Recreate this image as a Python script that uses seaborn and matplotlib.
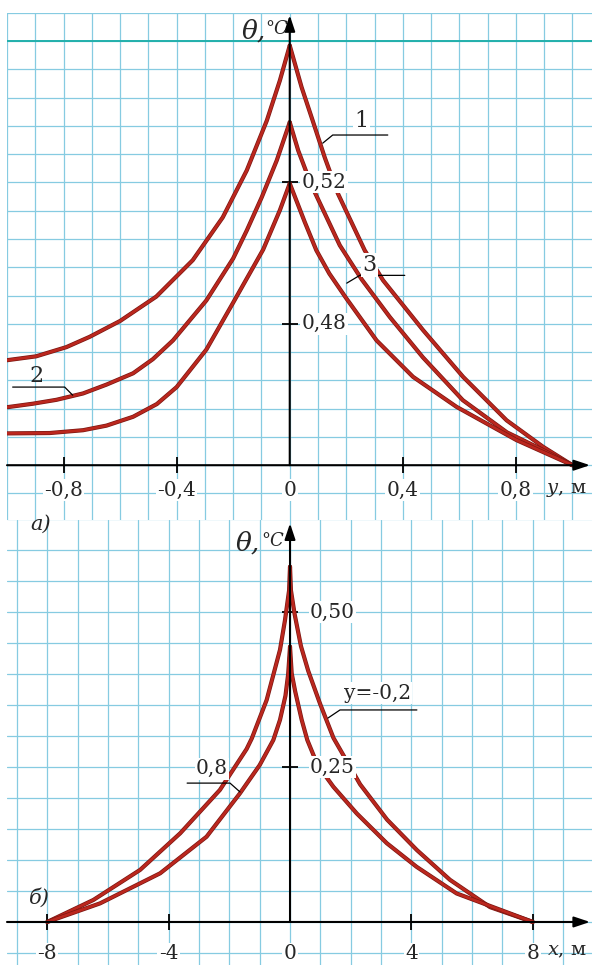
import numpy as np
import pandas as pd
import matplotlib
matplotlib.use("Agg")
import matplotlib.pyplot as plt
import matplotlib.patheffects as pe
import seaborn as sns

# ---------- panel а: θ along y, three cases ----------
a1_y_left = [-1.0, -0.897, -0.79, -0.708, -0.60, -0.472, -0.343, -0.237, -0.152, -0.081, -0.035, 0.0]
a1_t_left = [0.4697, 0.4708, 0.4734, 0.4763, 0.4808, 0.4877, 0.498, 0.5101, 0.5234, 0.5375, 0.5488, 0.5587]
a1_y_right = [0.0, 0.042, 0.081, 0.124, 0.170, 0.265, 0.33, 0.4716, 0.613, 0.767, 0.896, 1.0]
a1_t_right = [0.5587, 0.5469, 0.5375, 0.527, 0.5169, 0.5008, 0.4923, 0.4782, 0.465, 0.4527, 0.4452, 0.44]

a2_y_left = [-1.0, -0.908, -0.825, -0.731, -0.648, -0.554, -0.484, -0.413, -0.295, -0.2, -0.152, -0.099, -0.046, 0.0]
a2_t_left = [0.4564, 0.4574, 0.4585, 0.4603, 0.4628, 0.466, 0.47, 0.4753, 0.4866, 0.4985, 0.5064, 0.5158, 0.5262, 0.537]
a2_y_right = [0.0, 0.03, 0.075, 0.177, 0.255, 0.354, 0.471, 0.612, 0.768, 0.896, 1.0]
a2_t_right = [0.537, 0.529, 0.5195, 0.5022, 0.4925, 0.4819, 0.4705, 0.4584, 0.4493, 0.4443, 0.44]

a3_y_left = [-1.0, -0.849, -0.731, -0.648, -0.554, -0.47, -0.4, -0.295, -0.2, -0.094, -0.035, 0.0]
a3_t_left = [0.449, 0.4491, 0.4499, 0.4512, 0.4537, 0.4573, 0.4621, 0.4727, 0.486, 0.501, 0.5121, 0.5197]
a3_y_right = [0.0, 0.053, 0.094, 0.14, 0.2, 0.307, 0.436, 0.59, 0.802, 1.0]
a3_t_right = [0.5197, 0.5088, 0.5008, 0.4942, 0.4872, 0.4753, 0.465, 0.4565, 0.4471, 0.44]

# ---------- panel б: θ along x for two y levels ----------
b1_x_left = [-8.0, -6.48, -4.94, -3.62, -2.31, -1.43, -1.26, -0.77, -0.33, -0.165, -0.03, 0.0]
b1_t_left = [0.0, 0.0355, 0.084, 0.143, 0.213, 0.279, 0.296, 0.358, 0.439, 0.487, 0.535, 0.573]
b1_x_right = [0.0, 0.03, 0.15, 0.36, 0.6, 0.99, 1.43, 2.31, 3.2, 4.18, 5.27, 6.59, 8.0]
b1_t_right = [0.573, 0.535, 0.497, 0.445, 0.405, 0.352, 0.297, 0.222, 0.165, 0.116, 0.068, 0.024, 0.0]

b2_x_left = [-8.0, -6.26, -4.28, -2.75, -1.65, -1.0, -0.55, -0.33, -0.15, -0.06, 0.0]
b2_t_left = [0.0, 0.030, 0.0785, 0.1375, 0.2075, 0.253, 0.2935, 0.326, 0.365, 0.40, 0.444]
b2_x_right = [0.0, 0.055, 0.17, 0.385, 0.57, 0.8, 1.0, 1.43, 2.2, 3.19, 4.17, 5.49, 8.0]
b2_t_right = [0.444, 0.401, 0.372, 0.326, 0.2935, 0.266, 0.247, 0.218, 0.175, 0.127, 0.089, 0.046, 0.0]

# ---------- ticks ----------
a_xticks = [-0.8, -0.4, 0.0, 0.4, 0.8]
a_xtick_labels = ["-0,8", "-0,4", "0", "0,4", "0,8"]
a_yticks = [0.48, 0.52]
a_ytick_labels = ["0,48", "0,52"]
b_xticks = [-8, -4, 0, 4, 8]
b_xtick_labels = ["-8", "-4", "0", "4", "8"]
b_yticks = [0.25, 0.50]
b_ytick_labels = ["0,25", "0,50"]

sns.set_style("white")
plt.rcParams["font.family"] = ["DejaVu Serif"]
plt.rcParams["mathtext.fontset"] = "dejavuserif"

W, H = 592, 965
fig = plt.figure(figsize=(W / 100, H / 100), dpi=100)
fig.patch.set_facecolor("white")
ax_a = fig.add_axes([7 / W, (H - 520) / H, 585 / W, (520 - 12.7) / H])
ax_b = fig.add_axes([7 / W, 0, 585 / W, 445 / H])

GRID = "#86cbe1"
TEAL = "#22b0ab"
CURVE = "#bb271e"
OUTLINE = "#7a1712"
BOX = dict(facecolor="white", edgecolor="none", pad=1.0)


def branches(parts):
    return pd.concat(
        [pd.DataFrame({"pos": p, "theta": t, "branch": n}) for n, p, t in parts],
        ignore_index=True,
    )


def draw_curves(ax, df):
    sns.lineplot(
        data=df, x="pos", y="theta", units="branch", estimator=None, sort=False,
        color=CURVE, lw=2.0, legend=False, ax=ax, zorder=3,
        solid_joinstyle="round", solid_capstyle="round",
        path_effects=[pe.Stroke(linewidth=3.0, foreground=OUTLINE,
                                joinstyle="round", capstyle="round"),
                      pe.Normal()],
    )
    ax.set_xlabel("")
    ax.set_ylabel("")


def frame(ax, xlim, ylim, xgrid, ygrid, base, ticks_x, ticks_y, x_end, y_end):
    ax.set_xlim(*xlim)
    ax.set_ylim(*ylim)
    ax.set_facecolor("white")
    for gx in xgrid:
        ax.axvline(gx, color=GRID, lw=0.9, zorder=0.5)
    for gy in ygrid:
        ax.axhline(gy, color=GRID, lw=0.9, zorder=0.5)
    for side in ("top", "right"):
        ax.spines[side].set_visible(False)
    ax.spines["left"].set_position(("data", 0))
    ax.spines["bottom"].set_position(("data", base))
    ax.spines["left"].set_color("none")
    ax.spines["bottom"].set_color("none")
    ax.set_xticks(ticks_x)
    ax.set_yticks(ticks_y)
    ax.tick_params(axis="both", which="major", direction="inout", length=12,
                   width=1.3, color="black", bottom=True, left=True, top=False,
                   right=False, labelbottom=False, labelleft=False)
    arrow = dict(arrowstyle="-|>,head_length=0.6,head_width=0.2", color="black",
                 lw=1.5, mutation_scale=16, shrinkA=0, shrinkB=0)
    ax.annotate("", xy=(0, y_end), xytext=(0, base), arrowprops=arrow, zorder=5)
    ax.annotate("", xy=(x_end, base), xytext=(xlim[0], base), arrowprops=arrow, zorder=5)


# ----- panel а -----
df_a = branches([
    ("1L", a1_y_left, a1_t_left), ("1R", a1_y_right, a1_t_right),
    ("2L", a2_y_left, a2_t_left), ("2R", a2_y_right, a2_t_right),
    ("3L", a3_y_left, a3_t_left), ("3R", a3_y_right, a3_t_right),
])
draw_curves(ax_a, df_a)
frame(ax_a, (-1.0, 1.069), (0.4245, 0.568),
      np.round(np.arange(-10, 11) / 10, 2), np.round(np.arange(53, 72) * 0.008, 3),
      0.44, [-0.8, -0.4, 0.4, 0.8], a_yticks, 1.062, 0.5673)
ax_a.axhline(0.56, color=TEAL, lw=1.4, zorder=0.6)

for xv, lab in zip(a_xticks, a_xtick_labels):
    ax_a.text(xv, 0.4329, lab, ha="center", va="center", fontsize=14.5,
              bbox=BOX, zorder=6)
for yv, lab in zip(a_yticks, a_ytick_labels):
    ax_a.text(0.042, yv, lab, ha="left", va="center", fontsize=14.5,
              bbox=BOX, zorder=6)
ax_a.text(0.906, 0.4329, "$y$, м", ha="left", va="center", fontsize=14, zorder=6)
ax_a.text(-0.083, 0.5628, "θ,", ha="right", va="center", fontsize=19,
          style="italic", zorder=6)
ax_a.text(-0.088, 0.5633, "°C", ha="left", va="center", fontsize=13,
          style="italic", zorder=6)

# curve labels with leaders
ax_a.plot([0.1167, 0.152, 0.3467], [0.5311, 0.5334, 0.5334], color="black", lw=0.9, zorder=4)
ax_a.text(0.2547, 0.5375, "1", ha="center", va="center", fontsize=16, bbox=BOX, zorder=4)
ax_a.plot([-0.7676, -0.796, -0.98], [0.4598, 0.4621, 0.4621], color="black", lw=0.9, zorder=4)
ax_a.text(-0.895, 0.4652, "2", ha="center", va="center", fontsize=16, zorder=4)
ax_a.plot([0.2016, 0.2476, 0.4068], [0.4915, 0.4937, 0.4937], color="black", lw=0.9, zorder=4)
ax_a.text(0.283, 0.4966, "3", ha="center", va="center", fontsize=16, bbox=BOX, zorder=4)

# ----- panel б -----
df_b = branches([
    ("aL", b1_x_left, b1_t_left), ("aR", b1_x_right, b1_t_right),
    ("bL", b2_x_left, b2_t_left), ("bR", b2_x_right, b2_t_right),
])
draw_curves(ax_b, df_b)
frame(ax_b, (-9.325, 9.95), (-0.0694, 0.6484),
      np.arange(-9, 10), np.round(np.arange(-1, 14) * 0.05, 2),
      0.0, [-8, -4, 4, 8], b_yticks, 9.885, 0.643)
ax_b.axhline(0.65, color=TEAL, lw=1.2, zorder=0.6)

for xv, lab in zip(b_xticks, b_xtick_labels):
    ax_b.text(xv, -0.0516, lab, ha="center", va="center", fontsize=14.5,
              bbox=BOX, zorder=6)
for yv, lab in zip(b_yticks, b_ytick_labels):
    ax_b.text(0.66, yv, lab, ha="left", va="center", fontsize=14.5,
              bbox=BOX, zorder=6)
ax_b.text(8.48, -0.0468, "$x$, м", ha="left", va="center", fontsize=14, zorder=6)
ax_b.text(-1.0, 0.612, "θ,", ha="right", va="center", fontsize=19,
          style="italic", zorder=6)
ax_b.text(-0.95, 0.614, "°C", ha="left", va="center", fontsize=13,
          style="italic", zorder=6)

ax_b.plot([1.252, 1.647, 4.18], [0.329, 0.342, 0.342], color="black", lw=0.9, zorder=4)
ax_b.text(2.87, 0.369, "y=-0,2", ha="center", va="center", fontsize=14.5,
          bbox=BOX, zorder=4)
ax_b.plot([-3.39, -1.977, -1.647], [0.224, 0.224, 0.2097], color="black", lw=0.9, zorder=4)
ax_b.text(-2.57, 0.247, "0,8", ha="center", va="center", fontsize=14.5,
          bbox=BOX, zorder=4)

ax_b.text(-8.27, 0.0387, "б)", ha="center", va="center", fontsize=15,
          style="italic", zorder=6)
fig.text(41 / W, 1 - 524 / H, "а)", ha="center", va="center", fontsize=15,
         style="italic")

fig.savefig("out.png", dpi=100, facecolor="white")
